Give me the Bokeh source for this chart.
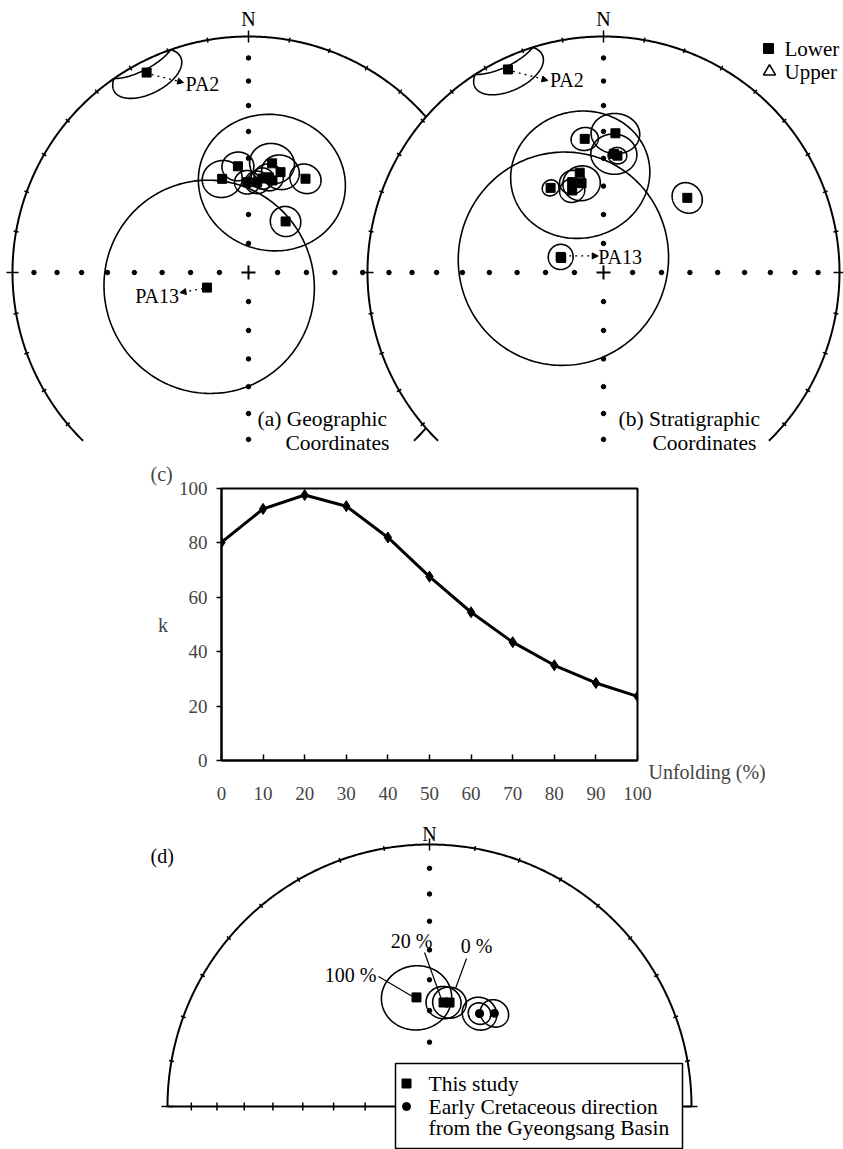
import numpy as np
from bokeh.plotting import figure
from bokeh.models import Range1d, Arrow, NormalHead, FixedTicker, Title, LinearAxis
from bokeh.core.properties import value
from bokeh.embed import file_html
from bokeh.resources import INLINE

FONT = "Liberation Serif"

# ---------------- data ----------------
# (a) geographic coordinates: declination, inclination, alpha95
geo_dec = [333.0, 250.0, 344.3, 354.3, 359.2, 5.5, 12.0, 12.2, 17.7, 31.3, 36.0, 8.5, 14.6]
geo_inc = [5.5, 74.8, 56.1, 52.7, 58.6, 58.5, 56.1, 50.9, 53.2, 51.6, 68.2, 56.9, 56.9]
geo_a95 = [9.5, 37.0, 6.6, 5.2, 4.2, 4.0, 4.8, 7.3, 6.2, 5.2, 5.2, 3.8, 24.5]
# (b) stratigraphic coordinates
str_dec = [334.8, 289.0, 290.0, 352.0, 4.9, 5.0, 6.8, 346.6, 340.9, 346.2, 328.0, 339.1, 48.3]
str_inc = [5.5, 74.6, 74.3, 42.3, 40.5, 48.2, 48.7, 54.2, 56.7, 58.0, 55.2, 59.5, 50.7]
str_a95 = [9.5, 37.0, 4.3, 4.3, 7.6, 7.4, 3.0, 23.0, 4.2, 6.2, 2.8, 4.2, 5.2]
pa2_idx, pa13_idx = 0, 1

# (c) fold test
unfolding = [0, 10, 20, 30, 40, 50, 60, 70, 80, 90, 100]
k_values = [80.2, 92.5, 97.6, 93.5, 82.0, 67.6, 54.5, 43.5, 35.0, 28.5, 23.6]
x_ticks = list(range(0, 101, 10))
y_ticks = list(range(0, 101, 20))

# (d) mean directions
unf_labels = ["100 %", "20 %", "0 %"]
unf_dec = [353.2, 7.7, 10.9]
unf_inc = [55.5, 57.1, 56.8]
unf_a95 = [10.4, 5.2, 5.0]
gb_dec = [28.3, 28.3, 34.9]
gb_inc = [56.9, 56.9, 54.3]
gb_a95 = [5.2, 3.4, 4.3]

# ---------------- projection helpers ----------------
def unit_vec(D, I):
    D = np.radians(D); I = np.radians(I)
    return np.array([np.cos(I) * np.cos(D), np.cos(I) * np.sin(D), np.sin(I)])

def ea(n, e, d):
    s = 1.0 / np.sqrt(1.0 + np.abs(d))
    return e * s, n * s

def proj(D, I):
    n, e, d = unit_vec(D, I)
    return ea(n, e, d)

def small_circle(D, I, a, num=241):
    Dr, Ir, ar = np.radians([D, I, a])
    v = unit_vec(D, I)
    u1 = np.array([-np.sin(Dr), np.cos(Dr), 0.0])
    u2 = np.array([-np.sin(Ir) * np.cos(Dr), -np.sin(Ir) * np.sin(Dr), np.cos(Ir)])
    t = np.linspace(0, 2 * np.pi, num)
    p = np.cos(ar) * v[:, None] + np.sin(ar) * (np.cos(t) * u1[:, None] + np.sin(t) * u2[:, None])
    return ea(p[0], p[1], p[2])

def to_px(x, y, net):
    cx, cy, R = net
    return cx + R * np.asarray(x), cy - R * np.asarray(y)

def clip(ys, cutoff):
    ys = np.asarray(ys, dtype=float)
    if cutoff is None:
        return ys
    return np.where(ys > cutoff, np.nan, ys)

def draw_primitive(p, net, cutoff=None, az0=0, az1=360, fill=False):
    cx, cy, R = net
    t = np.radians(np.arange(az0, az1 + 0.01, 0.5))
    xs = cx + R * np.sin(t); ys = cy - R * np.cos(t)
    if fill:
        p.patch(list(xs), list(ys), fill_color="white", line_color=None)
    p.line(list(xs), list(clip(ys, cutoff)), line_color="black", line_width=2)
    if az1 < 360:
        az = np.arange(az0, az1 + 1, 10)
    else:
        az = np.arange(az0, 360, 10)
    L = np.where(az % 90 == 0, 6.0, 2.5)
    a = np.radians(az)
    x0 = cx + (R - L) * np.sin(a); y0 = cy - (R - L) * np.cos(a)
    x1 = cx + (R + L) * np.sin(a); y1 = cy - (R + L) * np.cos(a)
    keep = np.ones(len(az), bool) if cutoff is None else (y0 < cutoff)
    p.segment(list(x0[keep]), list(y0[keep]), list(x1[keep]), list(y1[keep]),
              line_color="black", line_width=1.5)

def axis_dots(p, net, dirs, cutoff=None):
    cx, cy, R = net
    incs = np.arange(10, 81, 10)
    r = np.sqrt(1 - np.sin(np.radians(incs)))
    xs, ys = [], []
    for az in dirs:
        a = np.radians(az)
        xs += list(cx + R * r * np.sin(a)); ys += list(cy - R * r * np.cos(a))
    xs = np.array(xs); ys = np.array(ys)
    keep = np.ones(len(xs), bool) if cutoff is None else (ys < cutoff)
    p.scatter(list(xs[keep]), list(ys[keep]), size=4.5, color="black")

def draw_sites(p, net, decs, incs, a95s, marker="square", size=9):
    xl, yl = [], []
    for D, I, a in zip(decs, incs, a95s):
        sx, sy = small_circle(D, I, a)
        px, py = to_px(sx, sy, net)
        xl.append(list(px)); yl.append(list(py))
    p.multi_line(xl, yl, line_color="black", line_width=1.6)
    pts = [proj(D, I) for D, I in zip(decs, incs)]
    px, py = to_px([q[0] for q in pts], [q[1] for q in pts], net)
    p.scatter(list(px), list(py), marker=marker, size=size, color="black")
    return px, py

def txt(p, x, y, s, size="21px", align="left", baseline="middle"):
    p.text([x], [y], text=[s], text_font=value(FONT), text_font_size=size,
           text_align=align, text_baseline=baseline, text_color="black")

def dotted_arrow(p, x0, y0, x1, y1):
    p.add_layout(Arrow(end=NormalHead(size=6, fill_color="black", line_color="black", line_width=1),
                       x_start=x0, y_start=y0, x_end=x1, y_end=y1,
                       line_dash="dotted", line_width=1.3, line_color="black"))

# ---------------- top figure: (a) and (b) ----------------
H1 = 456
p1 = figure(width=843, height=H1, x_range=Range1d(0, 843), y_range=Range1d(H1, 0),
            toolbar_location=None, output_backend="svg",
            x_axis_location=None, y_axis_location=None, min_border=0)
p1.grid.visible = False
p1.outline_line_color = None

netA = (248.0, 272.0, 236.0)
netB = (603.0, 272.0, 236.0)
CUT = 441.0

draw_primitive(p1, netA, cutoff=CUT)
axis_dots(p1, netA, [0, 90, 180, 270], cutoff=CUT + 3)
p1.scatter([netA[0]], [netA[1]], marker="cross", size=14, line_width=2, color="black")
ax, ay = draw_sites(p1, netA, geo_dec, geo_inc, geo_a95)
txt(p1, netA[0], 18, "N", size="20px", align="center")
dotted_arrow(p1, ax[pa2_idx] + 5, ay[pa2_idx] + 2, ax[pa2_idx] + 37, ay[pa2_idx] + 10)
txt(p1, ax[pa2_idx] + 39, ay[pa2_idx] + 11, "PA2", size="20px")
dotted_arrow(p1, ax[pa13_idx] - 4, ay[pa13_idx] + 1, ax[pa13_idx] - 27, ay[pa13_idx] + 5)
txt(p1, ax[pa13_idx] - 28, ay[pa13_idx] + 8, "PA13", size="20px", align="right")
txt(p1, netA[0] + 9, 418, "(a) Geographic", size="21.5px")
txt(p1, netA[0] + 37, 442, "Coordinates", size="21.5px")

draw_primitive(p1, netB, cutoff=CUT, fill=True)
axis_dots(p1, netB, [0, 90, 180, 270], cutoff=CUT + 3)
p1.scatter([netB[0]], [netB[1]], marker="cross", size=14, line_width=2, color="black")
bx, by = draw_sites(p1, netB, str_dec, str_inc, str_a95)
txt(p1, netB[0], 18, "N", size="20px", align="center")
dotted_arrow(p1, bx[pa2_idx] + 5, by[pa2_idx] + 2, bx[pa2_idx] + 40, by[pa2_idx] + 11)
txt(p1, bx[pa2_idx] + 42, by[pa2_idx] + 11, "PA2", size="20px")
dotted_arrow(p1, bx[pa13_idx] + 8, by[pa13_idx] - 2, bx[pa13_idx] + 37, by[pa13_idx] - 2)
txt(p1, bx[pa13_idx] + 37, by[pa13_idx] - 1, "PA13", size="20px")
txt(p1, netB[0] + 15, 418, "(b) Stratigraphic", size="21.5px")
txt(p1, netB[0] + 49, 442, "Coordinates", size="21.5px")

p1.scatter([768], [48], marker="square", size=10, color="black")
p1.scatter([769], [71], marker="triangle", size=12, fill_color="white", line_color="black", line_width=1.6)
txt(p1, 784, 48, "Lower")
txt(p1, 784, 71, "Upper")

# ---------------- (c) fold test ----------------
H2 = 812 - H1
p2 = figure(width=843, height=H2, x_range=Range1d(0, 100), y_range=Range1d(0, 100),
            toolbar_location=None, output_backend="svg",
            min_border_left=221, min_border_right=206, min_border_top=488 - H1, min_border_bottom=52)
p2.grid.visible = False
p2.outline_line_color = "black"
p2.outline_line_width = 2
xa = p2.xaxis[0]
xa.ticker = FixedTicker(ticks=x_ticks)
xa.minor_tick_line_color = None
xa.major_tick_in = 6; xa.major_tick_out = 0
xa.major_tick_line_width = 1.5; xa.axis_line_width = 2
xa.major_label_text_font = FONT; xa.major_label_text_font_size = "19px"
xa.major_label_standoff = 26
ya = p2.yaxis[0]
ya.ticker = FixedTicker(ticks=y_ticks)
ya.minor_tick_line_color = None
ya.major_tick_in = 0; ya.major_tick_out = 5
ya.major_tick_line_width = 1.5; ya.axis_line_width = 2
ya.major_label_text_font = FONT; ya.major_label_text_font_size = "19px"
ya.major_label_standoff = 9
ya.axis_label = "k"
ya.axis_label_orientation = "horizontal"
ya.axis_label_standoff = 8
ya.axis_label_text_font = FONT
ya.axis_label_text_font_size = "20px"
ya.axis_label_text_font_style = "normal"
p2.line(unfolding, k_values, line_color="black", line_width=3)
p2.scatter(unfolding, k_values, marker="diamond", size=11, color="black")
p2.add_layout(Title(text="(c)", align="left", offset=-71, standoff=8, text_font=FONT,
                    text_font_size="20px", text_font_style="normal"), "above")
# x-axis title sits to the right of the box, just below the level of k = 0
ra = LinearAxis(ticker=FixedTicker(ticks=[y_ticks[0]]),
                major_label_overrides={y_ticks[0]: "\nUnfolding (%)"},
                axis_line_color=None, major_tick_line_color=None, minor_tick_line_color=None,
                major_tick_in=0, major_tick_out=0, major_label_standoff=11,
                major_label_text_font=FONT, major_label_text_font_size="20px",
                major_label_text_line_height=1.0)
p2.add_layout(ra, "right")

# ---------------- (d) mean directions ----------------
TOP3 = 812
p3 = figure(width=843, height=1149 - TOP3, x_range=Range1d(0, 843), y_range=Range1d(1149, TOP3),
            toolbar_location=None, output_backend="svg",
            x_axis_location=None, y_axis_location=None, min_border=0)
p3.grid.visible = False
p3.outline_line_color = None
netD = (429.0, 1106.0, 262.0)
cx, cy, R = netD
draw_primitive(p3, netD, az0=-90, az1=90)
p3.line([cx - R, cx + R], [cy, cy], line_color="black", line_width=2)
rr = np.sqrt(1 - np.sin(np.radians(np.arange(10, 81, 10))))
tx = list(cx - R * rr) + list(cx + R * rr)
p3.segment(tx, [cy - 4] * len(tx), tx, [cy + 4] * len(tx), line_color="black", line_width=1.5)
axis_dots(p3, netD, [0])
txt(p3, cx, 833, "N", size="20px", align="center")
dx_, dy_ = draw_sites(p3, netD, unf_dec, unf_inc, unf_a95, size=9)
gx_, gy_ = draw_sites(p3, netD, gb_dec, gb_inc, gb_a95, marker="circle", size=8)
lab_off = [(-40, -22, "right"), (-32, -62, "center"), (27, -57, "center")]
lead = [((-38, -21), (-4, -1)), ((-19, -50), (-2, -3)), ((17, -44), (6, -14))]
for i, s in enumerate(unf_labels):
    ox, oy, al = lab_off[i]
    txt(p3, dx_[i] + ox, dy_[i] + oy, s, size="20px", align=al)
    (a0, b0), (a1, b1) = lead[i]
    p3.line([dx_[i] + a0, dx_[i] + a1], [dy_[i] + b0, dy_[i] + b1], line_color="black", line_width=1.2)
txt(p3, 150, 855, "(d)", size="20px")
p3.quad(left=[395], right=[682], top=[1063], bottom=[1148], fill_color="white",
        line_color="black", line_width=1.5)
p3.scatter([406], [1083], marker="square", size=9, color="black")
p3.scatter([406], [1106], marker="circle", size=8, color="black")
txt(p3, 428, 1083, "This study", size="21.5px")
txt(p3, 428, 1106, "Early Cretaceous direction", size="21.5px")
txt(p3, 428, 1127, "from the Gyeongsang Basin", size="21.5px")

open("out.html", "w").write(file_html([p1, p2, p3], INLINE))
